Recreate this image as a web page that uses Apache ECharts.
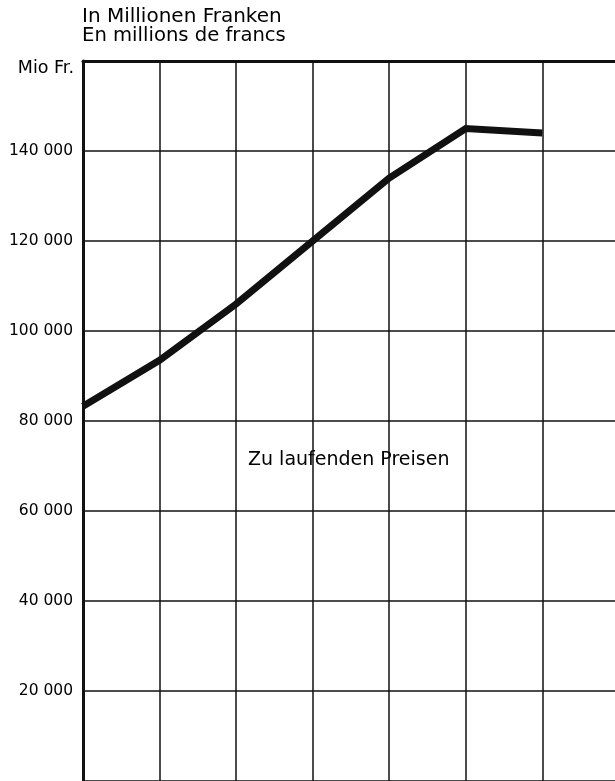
<!DOCTYPE html>
<html>
<head>
<meta charset="utf-8">
<script src="https://cdn.jsdelivr.net/npm/echarts@6/dist/echarts.min.js"></script>
<style>
  html, body { margin: 0; padding: 0; background: #fff; }
  #chart { width: 615px; height: 781px; }
</style>
</head>
<body>
<div id="chart"></div>
<script>
// Nominal values, million francs, one per period
const periods = [0, 1, 2, 3, 4, 5, 6];
const values = [83300, 93500, 106000, 120000, 134000, 145000, 144000];

// Value-axis ticks (labelled ones)
const yTicks = [20000, 40000, 60000, 80000, 100000, 120000, 140000];

const titleLines = ['In Millionen Franken', 'En millions de francs'];
const unitLabel = 'Mio Fr.';
const seriesLabel = 'Zu laufenden Preisen';

const INK = '#111111';
const TEXT = '#000000';
const FONT = 'DejaVu Sans';

// the period grid runs on past the right edge of the page
const X_MAX = 6.95;

function fmt(v) {
  return String(v).replace(/\B(?=(\d{3})+(?!\d))/g, ' ');
}

const chart = echarts.init(document.getElementById('chart'), null, { renderer: 'canvas' });

chart.setOption({
  animation: false,
  backgroundColor: '#ffffff',
  grid: { left: 83, top: 61, right: 0, bottom: 0, containLabel: false },
  xAxis: [
    {
      type: 'value', min: 0, max: X_MAX, interval: 1,
      axisLine: { show: false }, axisTick: { show: false }, axisLabel: { show: false },
      splitLine: { show: true, showMaxLine: false, lineStyle: { color: INK, width: 1.5 } }
    },
    {
      // heavy top border
      type: 'value', position: 'top', min: 0, max: X_MAX, interval: 1,
      axisLine: { show: true, lineStyle: { color: INK, width: 3 } },
      axisTick: { show: false }, axisLabel: { show: false }, splitLine: { show: false }
    }
  ],
  yAxis: {
    type: 'value', min: 0, max: 160000, interval: 20000,
    axisLine: { show: true, lineStyle: { color: INK, width: 3 } },
    axisTick: { show: false },
    splitLine: { show: true, lineStyle: { color: INK, width: 1.5 } },
    axisLabel: {
      margin: 10,
      color: TEXT,
      fontFamily: FONT,
      fontSize: 15.5,
      formatter: v => (yTicks.indexOf(v) >= 0 ? fmt(v) : '')
    }
  },
  series: [{
    type: 'line',
    xAxisIndex: 0,
    data: periods.map((p, i) => [p, values[i]]),
    symbol: 'none',
    lineStyle: { color: INK, width: 7, cap: 'butt', join: 'miter' },
    z: 5
  }],
  graphic: [
    {
      type: 'text', left: 82, top: 7,
      style: { text: titleLines[0], fill: TEXT, fontFamily: FONT, fontSize: 20 }
    },
    {
      type: 'text', left: 82, top: 26,
      style: { text: titleLines[1], fill: TEXT, fontFamily: FONT, fontSize: 19.6 }
    },
    {
      type: 'text', right: 615 - 74, top: 59,
      style: { text: unitLabel, fill: TEXT, fontFamily: FONT, fontSize: 17.5 }
    },
    {
      type: 'text', left: 248, top: 451,
      style: { text: seriesLabel, fill: TEXT, fontFamily: FONT, fontSize: 19 }
    }
  ]
});
</script>
</body>
</html>
